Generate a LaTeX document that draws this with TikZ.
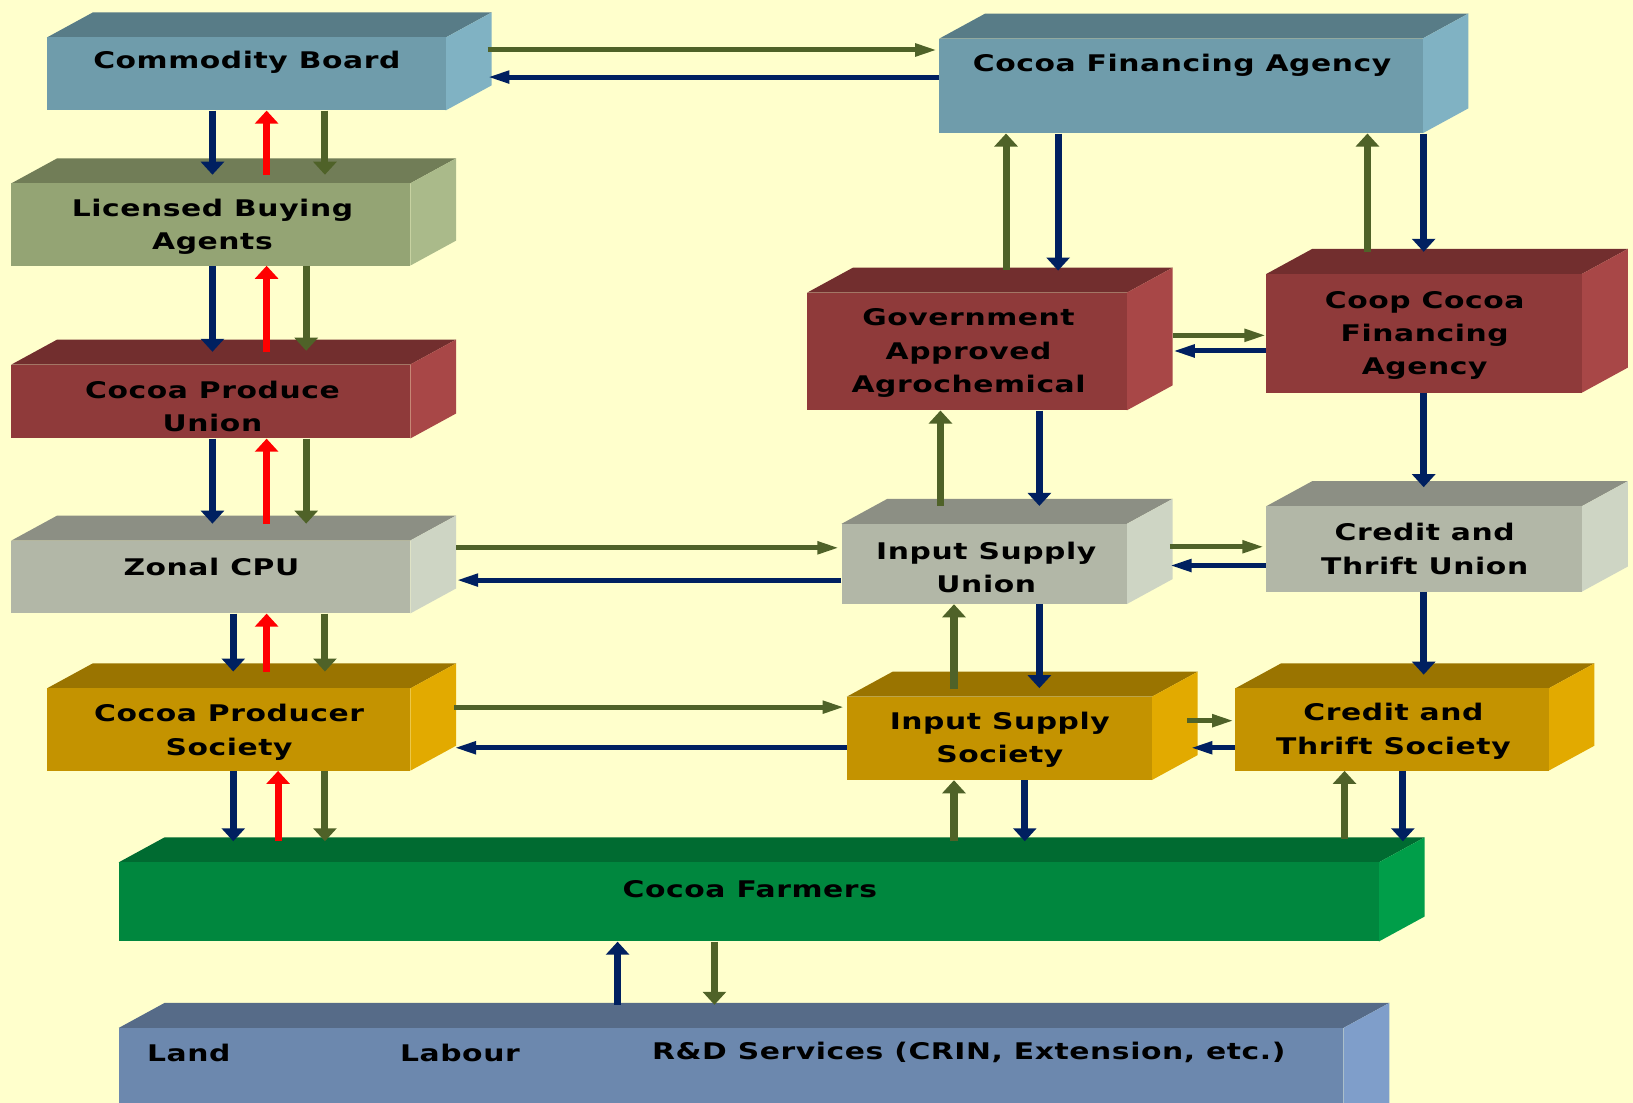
\documentclass[tikz,border=0pt]{standalone}
\usepackage{fontspec}
\newfontfamily\lblfont{DejaVu Sans}[FakeStretch=1.3,LetterSpace=2.5]
\usetikzlibrary{arrows.meta,calc,fit}
\definecolor{bg}{HTML}{FFFFCC}
\definecolor{navyc}{HTML}{002060}
\definecolor{olivec}{HTML}{4F6228}
\definecolor{redc}{HTML}{FF0000}
\definecolor{bluF}{HTML}{6F9CAB}\definecolor{bluT}{HTML}{587C87}\definecolor{bluS}{HTML}{80B2C3}
\definecolor{olvF}{HTML}{94A474}\definecolor{olvT}{HTML}{717D57}\definecolor{olvS}{HTML}{AABA8A}
\definecolor{redF}{HTML}{8F3A3A}\definecolor{redT}{HTML}{722E2E}\definecolor{redS}{HTML}{A84747}
\definecolor{gryF}{HTML}{B2B7A7}\definecolor{gryT}{HTML}{8C8F84}\definecolor{gryS}{HTML}{CED5C4}
\definecolor{gldF}{HTML}{C49300}\definecolor{gldT}{HTML}{9A7400}\definecolor{gldS}{HTML}{E2AA00}
\definecolor{grnF}{HTML}{00873E}\definecolor{grnT}{HTML}{006B31}\definecolor{grnS}{HTML}{009E49}
\definecolor{sltF}{HTML}{6C88AE}\definecolor{sltT}{HTML}{566B88}\definecolor{sltS}{HTML}{7F9ECA}
% name, x1, y1, x2, y2, colour prefix
\newcommand\threedbox[6]{%
  \fill[#6T] (#2,#3) -- (#2+44,#3-24) -- (#4+44,#3-24) -- (#4,#3) -- cycle;
  \fill[#6S] (#4,#3) -- (#4+44,#3-24) -- (#4+44,#5-24) -- (#4,#5) -- cycle;
  \node[fit={(#2,#3) (#4,#5)}, inner sep=0pt, fill=#6F] (#1) {};
}
\tikzset{
  vA/.style={line width=6.8pt, -{Triangle[width=22pt,length=12.5pt]}},
  hA/.style={line width=4.8pt, -{Triangle[width=11.5pt,length=21pt]}},
  nv/.style={draw=navyc},
  ol/.style={draw=olivec},
  rdar/.style={draw=redc},
  lbl/.style={font=\lblfont\bfseries\fontsize{22}{32}\selectfont, align=center, text=black, inner sep=0pt}
}
\begin{document}
\begin{tikzpicture}[x=1pt,y=-1pt]
\useasboundingbox (0,0) rectangle (1568,1059);
\fill[bg] (0,0) rectangle (1568,1059);
\clip (0,0) rectangle (1568,1059);
% boxes
\threedbox{cb}{45}{36}{428}{106}{blu}
\threedbox{cfa}{902}{37}{1366}{128}{blu}
\threedbox{lba}{11}{176}{394}{255}{olv}
\threedbox{cpu}{11}{350}{394}{421}{red}
\threedbox{gaa}{775}{281}{1082}{394}{red}
\threedbox{ccfa}{1216}{263}{1519}{377}{red}
\threedbox{zcpu}{11}{519}{394}{589}{gry}
\threedbox{isu}{808}{503}{1082}{580}{gry}
\threedbox{ctu}{1216}{486}{1519}{568}{gry}
\threedbox{cps}{45}{661}{394}{740}{gld}
\threedbox{iss}{813}{669}{1106}{749}{gld}
\threedbox{cts}{1186}{661}{1487}{740}{gld}
\threedbox{cf}{114}{828}{1324}{904}{grn}
\threedbox{rd}{114}{987}{1290}{1090}{slt}
% labels
\node[lbl] (cb-t) at (237,60) {Commodity Board};
\node[lbl] (cfa-t) at (1135,63) {Cocoa Financing Agency};
\node[lbl] (lba-t) at (204,218) {Licensed Buying\\Agents};
\node[lbl] (cpu-t) at (204,390) {Cocoa Produce\\Union};
\node[lbl] (gaa-t) at (930,339) {Government\\Approved\\Agrochemical};
\node[lbl] (ccfa-t) at (1368,322) {Coop Cocoa\\Financing\\Agency};
\node[lbl] (zcpu-t) at (203,544) {Zonal CPU};
\node[lbl] (isu-t) at (947,545) {Input Supply\\Union};
\node[lbl] (ctu-t) at (1368,527) {Credit and\\Thrift Union};
\node[lbl] (cps-t) at (220,703) {Cocoa Producer\\Society};
\node[lbl] (iss-t) at (960,710) {Input Supply\\Society};
\node[lbl] (cts-t) at (1338,702) {Credit and\\Thrift Society};
\node[lbl] (cf-t) at (720,854) {Cocoa Farmers};
\node[lbl, anchor=west] (land) at (141,1011) {Land};
\node[lbl, anchor=west] (labour) at (384,1011) {Labour};
\node[lbl, anchor=west] (rdserv) at (626,1011) {R\&D Services (CRIN, Extension, etc.)};
% left column vertical arrows
\draw[vA,nv] (cb.south -| 204,0) -- ($(lba.north -| 204,0)+(0,-8)$);
\draw[vA,rdar] ($(lba.north -| 256,0)+(0,-8)$) -- (cb.south -| 256,0);
\draw[vA,ol] (cb.south -| 312,0) -- ($(lba.north -| 312,0)+(0,-8)$);
\draw[vA,nv] (lba.south -| 204,0) -- ($(cpu.north -| 204,0)+(0,-12)$);
\draw[vA,rdar] ($(cpu.north -| 256,0)+(0,-12)$) -- (lba.south -| 256,0);
\draw[vA,ol] (lba.south -| 294,0) -- ($(cpu.north -| 294,0)+(0,-13)$);
\draw[vA,nv] (cpu.south -| 204,0) -- ($(zcpu.north -| 204,0)+(0,-16)$);
\draw[vA,rdar] ($(zcpu.north -| 256,0)+(0,-16)$) -- (cpu.south -| 256,0);
\draw[vA,ol] (cpu.south -| 294,0) -- ($(zcpu.north -| 294,0)+(0,-16)$);
\draw[vA,nv] (zcpu.south -| 224,0) -- ($(cps.north -| 224,0)+(0,-16)$);
\draw[vA,rdar] ($(cps.north -| 256,0)+(0,-16)$) -- (zcpu.south -| 256,0);
\draw[vA,ol] (zcpu.south -| 312,0) -- ($(cps.north -| 312,0)+(0,-16)$);
\draw[vA,nv] (cps.south -| 224,0) -- ($(cf.north -| 224,0)+(0,-20)$);
\draw[vA,rdar] ($(cf.north -| 267,0)+(0,-20)$) -- (cps.south -| 267,0);
\draw[vA,ol] (cps.south -| 312,0) -- ($(cf.north -| 312,0)+(0,-20)$);
% right part vertical arrows
\draw[vA,ol] ($(gaa.north -| 966,0)+(0,-22)$) -- (cfa.south -| 966,0);
\draw[vA,nv] (cfa.south -| 1016,0) -- ($(gaa.north -| 1016,0)+(0,-21)$);
\draw[vA,ol] ($(ccfa.north -| 1313,0)+(0,-21)$) -- (cfa.south -| 1313,0);
\draw[vA,nv] (cfa.south -| 1367,0) -- ($(ccfa.north -| 1367,0)+(0,-21)$);
\draw[vA,ol] ($(isu.north -| 903,0)+(0,-17)$) -- (gaa.south -| 903,0);
\draw[vA,nv] (gaa.south -| 998,0) -- ($(isu.north -| 998,0)+(0,-17)$);
\draw[vA,nv] (ccfa.south -| 1367,0) -- ($(ctu.north -| 1367,0)+(0,-18)$);
\draw[vA,ol] ($(iss.north -| 916,0)+(0,-7)$) -- (isu.south -| 916,0);
\draw[vA,nv] (isu.south -| 998,0) -- ($(iss.north -| 998,0)+(0,-8)$);
\draw[vA,nv] (ctu.south -| 1367,0) -- ($(cts.north -| 1367,0)+(0,-13)$);
\draw[vA,ol] ($(cf.north -| 916,0)+(0,-20)$) -- (iss.south -| 916,0);
\draw[vA,nv] (iss.south -| 984,0) -- ($(cf.north -| 984,0)+(0,-20)$);
\draw[vA,ol] ($(cf.north -| 1291,0)+(0,-22)$) -- (cts.south -| 1291,0);
\draw[vA,nv] (cts.south -| 1347,0) -- ($(cf.north -| 1347,0)+(0,-20)$);
\draw[vA,nv] ($(rd.north -| 593,0)+(0,-22)$) -- (cf.south -| 593,0);
\draw[vA,ol] (cf.south -| 686,0) -- ($(rd.north -| 686,0)+(0,-22)$);
% horizontal arrows
\draw[hA,ol] ($(cb.east |- 0,48)+(40,0)$) -- ($(cfa.west |- 0,48)+(-2,0)$);
\draw[hA,nv] (cfa.west |- 0,74) -- ($(cb.east |- 0,74)+(40,0)$);
\draw[hA,ol] ($(gaa.east |- 0,322)+(44,0)$) -- (ccfa.west |- 0,322);
\draw[hA,nv] (ccfa.west |- 0,337) -- ($(gaa.east |- 0,337)+(44,0)$);
\draw[hA,ol] ($(zcpu.east |- 0,526)+(44,0)$) -- ($(isu.west |- 0,526)+(-2,0)$);
\draw[hA,nv] (isu.west |- 0,557) -- ($(zcpu.east |- 0,557)+(44,0)$);
\draw[hA,ol] ($(isu.east |- 0,525)+(41,0)$) -- ($(ctu.west |- 0,525)+(-2,0)$);
\draw[hA,nv] (ctu.west |- 0,543) -- ($(isu.east |- 0,543)+(41,0)$);
\draw[hA,ol] ($(cps.east |- 0,679)+(42,0)$) -- ($(iss.west |- 0,679)+(-2,0)$);
\draw[hA,nv] (iss.west |- 0,718) -- ($(cps.east |- 0,718)+(42,0)$);
\draw[hA,ol] ($(iss.east |- 0,692)+(34,0)$) -- ($(cts.west |- 0,692)+(-1,0)$);
\draw[hA,nv] (cts.west |- 0,718) -- ($(iss.east |- 0,718)+(37,0)$);
\end{tikzpicture}
\end{document}
